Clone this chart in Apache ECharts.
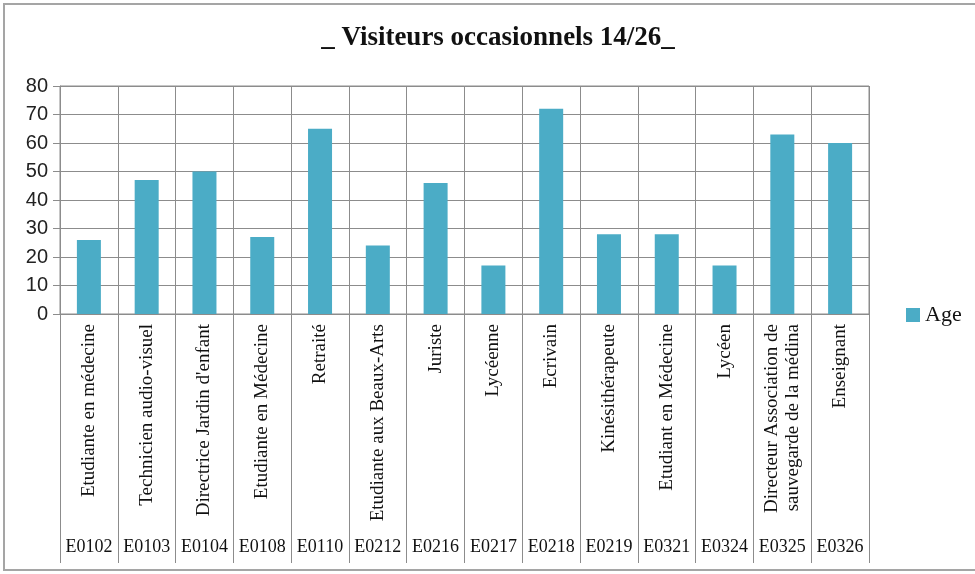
<!DOCTYPE html>
<html><head><meta charset="utf-8">
<script src="https://cdn.jsdelivr.net/npm/echarts@6/dist/echarts.min.js"></script>
<style>html,body{margin:0;padding:0;background:#fff}#c{width:975px;height:574px}</style>
</head><body><div id="c"></div>
<script>
const codes = ['E0102','E0103','E0104','E0108','E0110','E0212','E0216','E0217','E0218','E0219','E0321','E0324','E0325','E0326'];
const professions = ['Etudiante en médecine','Technicien audio-visuel',"Directrice Jardin d'enfant",'Etudiante en Médecine','Retraité','Etudiante aux Beaux-Arts','Juriste','Lycéenne','Ecrivain','Kinésithérapeute','Etudiant en Médecine','Lycéen','Directeur Association de\nsauvegarde de la médina','Enseignant'];
const ages = [26,47,50,27,65,24,46,17,72,28,28,17,63,60];
const yTicks = {min:0, max:80, interval:10};

const chart = echarts.init(document.getElementById('c'));
const grey = '#8c8c8c';
chart.setOption({
  animation:false,
  title:{text:'_ Visiteurs occasionnels 14/26_', left:493, top:20, textAlign:'center',
    textStyle:{fontFamily:'Liberation Serif', fontWeight:'bold', fontSize:27, color:'#111'}},
  legend:{data:['Age'], left:901, top:299, icon:'rect', itemWidth:14, itemHeight:14, itemGap:7,
    textStyle:{fontFamily:'Liberation Serif', fontSize:22, color:'#111'}},
  graphic:[{type:'rect', shape:{x:4, y:4, width:990, height:566}, style:{fill:'none', stroke:'#a5a5a5', lineWidth:2}, silent:true}],
  grid:{left:60, right:106, top:86, bottom:260, show:true, borderColor:grey, borderWidth:1},
  xAxis:[
    {type:'category', data:professions, position:'bottom',
     axisLine:{lineStyle:{color:grey}},
     axisTick:{show:true, interval:0, length:249, lineStyle:{color:grey}},
     splitLine:{show:true, interval:0, lineStyle:{color:grey}},
     axisLabel:{interval:0, rotate:90, margin:10, fontFamily:'Liberation Serif', fontSize:19, color:'#111', lineHeight:21}},
    {type:'category', data:codes, position:'bottom', offset:220,
     axisLine:{show:false}, axisTick:{show:false},
     axisLabel:{interval:0, margin:4, fontFamily:'Liberation Serif', fontSize:18, color:'#111'}}
  ],
  yAxis:{type:'value', min:yTicks.min, max:yTicks.max, interval:yTicks.interval,
    axisLine:{show:true, lineStyle:{color:grey}},
    axisTick:{show:true, length:7, lineStyle:{color:grey}},
    splitLine:{lineStyle:{color:grey}},
    axisLabel:{margin:12, fontFamily:'Liberation Sans', fontSize:20, color:'#222'}},
  series:[{name:'Age', type:'bar', data:ages, barWidth:24, xAxisIndex:0,
    itemStyle:{color:'#4bacc6'}}]
});
</script></body></html>
